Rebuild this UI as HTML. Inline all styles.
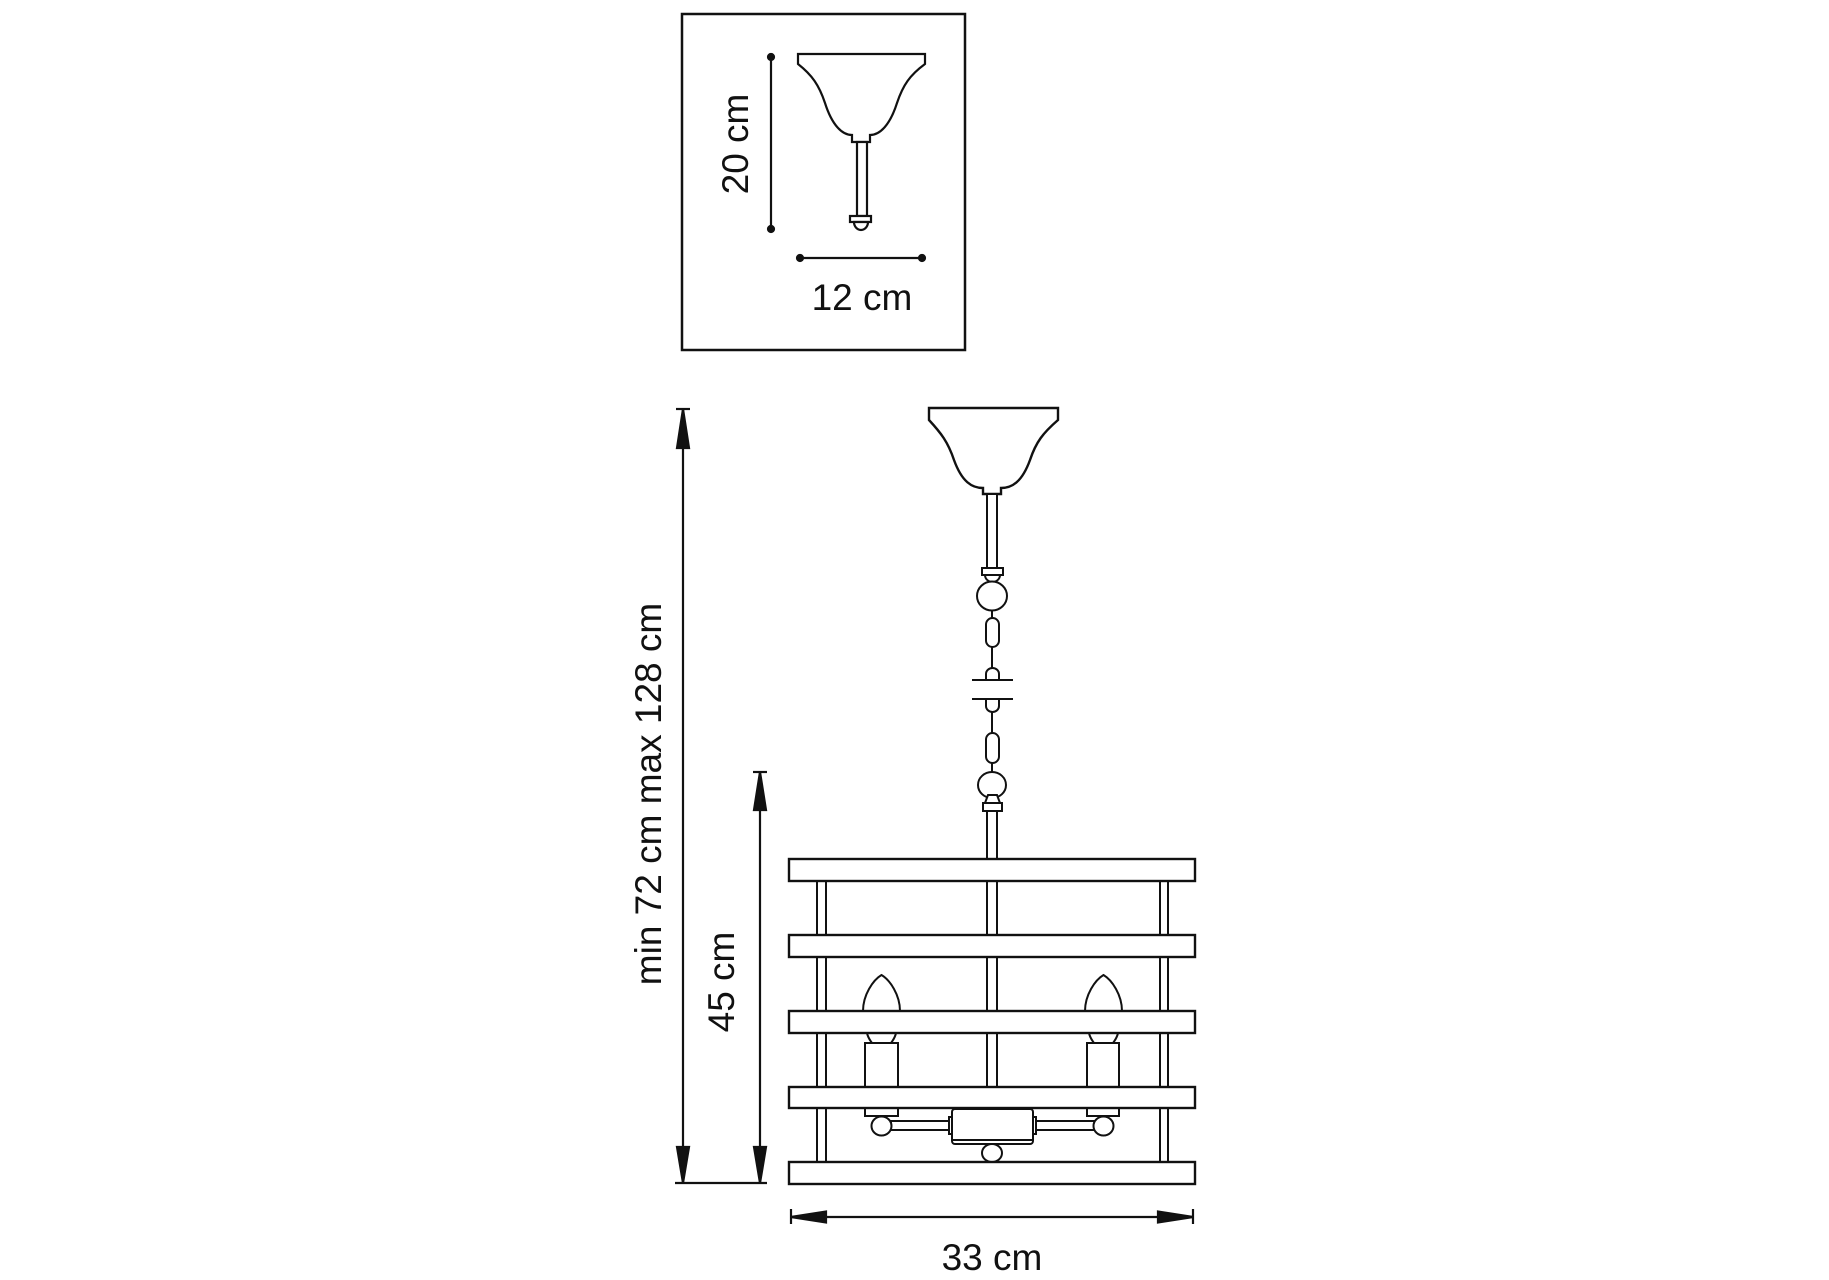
<!DOCTYPE html>
<html><head><meta charset="utf-8"><style>
html,body{margin:0;padding:0;background:#fff;width:1829px;height:1280px;overflow:hidden}
svg{display:block}
text{font-family:"Liberation Sans",sans-serif;fill:#111}
</style></head><body>
<svg width="1829" height="1280" viewBox="0 0 1829 1280" xmlns="http://www.w3.org/2000/svg">
<g fill="#fff" stroke="#111" stroke-width="2.2">
<rect x="682" y="14" width="283" height="336" stroke-width="2.5"/>
<line x1="771" y1="57" x2="771" y2="229"/>
<circle cx="771" cy="57" r="3" fill="#111"/><circle cx="771" cy="229" r="3" fill="#111"/>
<line x1="800" y1="258" x2="922" y2="258"/>
<circle cx="800" cy="258" r="3" fill="#111"/><circle cx="922" cy="258" r="3" fill="#111"/>
<path d="M798,54 L925,54 L925,64 C910,75 903,85 897,103 C890,125 880,135 870,135 L870,142 L852,142 L852,135 C842,135 832,125 825,103 C819,85 812,75 798,64 Z"/>
<rect x="857" y="142" width="10" height="74"/>
<rect x="850" y="216" width="21" height="6"/>
<path d="M854,222 A7,8 0 0 0 868,222 Z"/>
</g>
<text x="862" y="310" font-size="37" text-anchor="middle">12 cm</text>
<text transform="translate(748,144) rotate(-90)" font-size="37" text-anchor="middle">20 cm</text>

<g fill="#fff" stroke="#111" stroke-width="2">
<path d="M929,408 L1058,408 L1058,420 C1043,433 1036,442 1030,460 C1022,482 1012,488 1001,488 L1001,494 L983,494 L983,488 C972,488 962,482 954,460 C948,442 941,433 929,420 Z" stroke-width="2.4"/>
<rect x="987" y="494" width="10" height="74"/>
<rect x="982" y="568" width="21" height="7"/>
<path d="M985,575 A7.5,7 0 0 0 1000,575 Z"/>
<ellipse cx="992" cy="596" rx="15" ry="14.5"/>
<line x1="992" y1="610" x2="992" y2="680"/>
<rect x="986" y="618" width="13" height="29" rx="6.5"/>
<path d="M986,680 L986,674 A6.5,6 0 0 1 999,674 L999,680"/>
<path d="M986,699 L986,706 A6.5,6 0 0 0 999,706 L999,699"/>
<line x1="972" y1="680" x2="1013" y2="680"/>
<line x1="972" y1="699" x2="1013" y2="699"/>
<line x1="992" y1="712" x2="992" y2="773"/>
<rect x="986" y="733" width="13" height="30" rx="6.5"/>
<ellipse cx="992" cy="785" rx="14" ry="13"/>
<path d="M985,803 L988,795 L997,795 L1000,803 Z"/>
<rect x="983" y="803" width="19" height="8"/>
<rect x="987" y="811" width="10" height="48"/>
<rect x="817" y="881" width="9" height="281"/>
<rect x="987" y="881" width="10" height="230"/>
<rect x="1160" y="881" width="8" height="281"/>
<path d="M863,1011 C863,995 873,980 881.5,975 C890,980 900,995 900,1011 Z"/>
<path d="M1085,1011 C1085,995 1095,980 1103.5,975 C1112,980 1122,995 1122,1011 Z"/>
<path d="M867,1033 C868,1038 870,1040 872,1043 L891,1043 C893,1040 895,1038 896,1033 Z"/>
<path d="M1089,1033 C1090,1038 1092,1040 1094,1043 L1113,1043 C1115,1040 1117,1038 1118,1033 Z"/>
<rect x="865" y="1043" width="33" height="73"/>
<rect x="1087" y="1043" width="32" height="73"/>
<rect x="891" y="1121" width="58" height="9"/>
<rect x="1036" y="1121" width="59" height="9"/>
<rect x="949" y="1117" width="3" height="17"/>
<rect x="1033" y="1117" width="3" height="17"/>
<rect x="952" y="1109" width="81" height="35" rx="3"/>
<line x1="952" y1="1140" x2="1033" y2="1140"/>
<ellipse cx="881.5" cy="1126" rx="10" ry="9.5"/>
<ellipse cx="1103.5" cy="1126" rx="10" ry="9.5"/>
<ellipse cx="992" cy="1153" rx="10" ry="9"/>
<rect x="789" y="859" width="406" height="22" stroke-width="2.4"/>
<rect x="789" y="935" width="406" height="22" stroke-width="2.4"/>
<rect x="789" y="1011" width="406" height="22" stroke-width="2.4"/>
<rect x="789" y="1087" width="406" height="21" stroke-width="2.4"/>
<rect x="789" y="1162" width="406" height="22" stroke-width="2.4"/>
</g>
<g stroke="#111" stroke-width="2.2" fill="#111">
<line x1="683" y1="409" x2="683" y2="1183"/>
<line x1="676" y1="409" x2="690" y2="409"/>
<path d="M683,409 L677,448 L689,448 Z"/>
<path d="M683,1183 L677,1147 L689,1147 Z"/>
<line x1="760" y1="772" x2="760" y2="1183"/>
<line x1="753" y1="772" x2="767" y2="772"/>
<path d="M760,772 L754,810 L766,810 Z"/>
<path d="M760,1183 L754,1147 L766,1147 Z"/>
<line x1="675" y1="1183" x2="767" y2="1183"/>
<line x1="791" y1="1217" x2="1193" y2="1217"/>
<line x1="791" y1="1209" x2="791" y2="1224"/>
<line x1="1193" y1="1209" x2="1193" y2="1224"/>
<path d="M791,1217 L826,1211.5 L826,1222.5 Z"/>
<path d="M1193,1217 L1158,1211.5 L1158,1222.5 Z"/>
</g>
<text x="992" y="1270" font-size="37" text-anchor="middle">33 cm</text>
<text transform="translate(661,794) rotate(-90)" font-size="37" text-anchor="middle">min 72 cm max 128 cm</text>
<text transform="translate(734,982) rotate(-90)" font-size="37" text-anchor="middle">45 cm</text>
</svg>
</body></html>
